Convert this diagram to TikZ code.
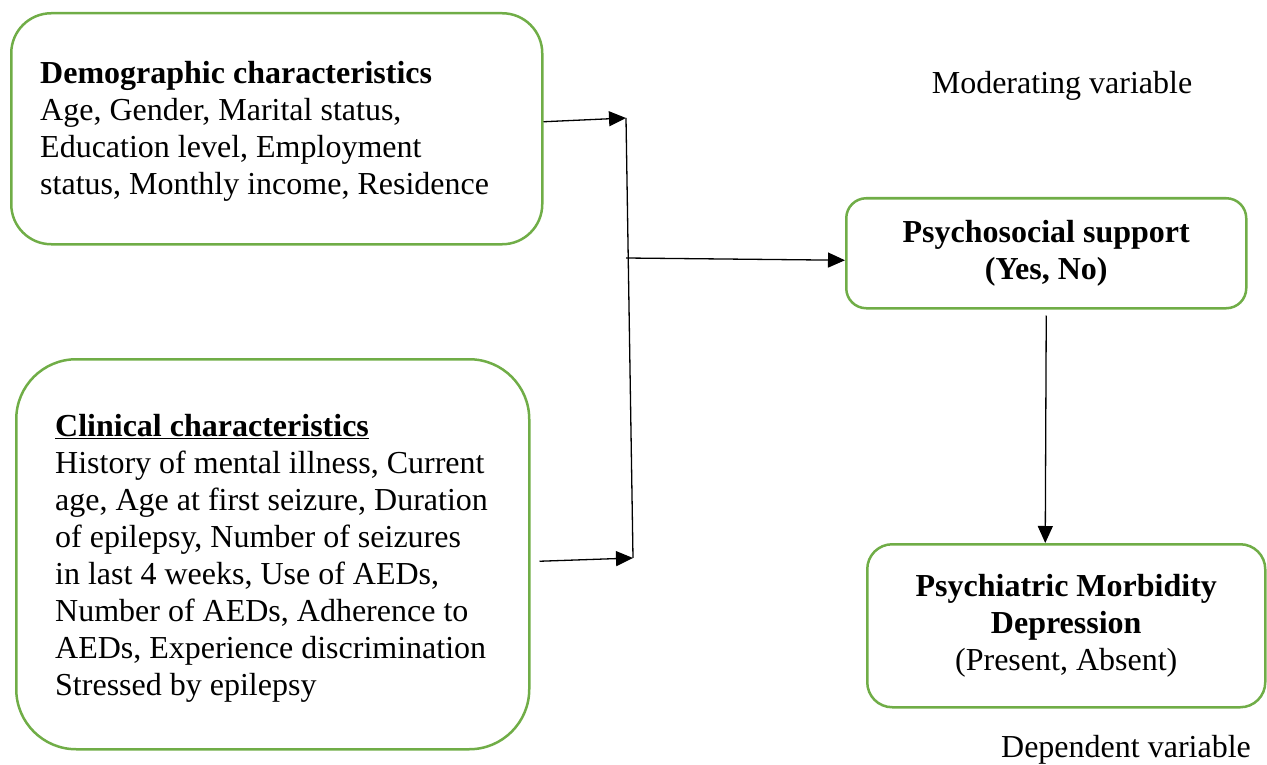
\documentclass[tikz,border=0pt]{standalone}
\usepackage{fontspec}
\setmainfont{Liberation Serif}
\usetikzlibrary{arrows.meta}
\definecolor{boxgreen}{RGB}{112,173,71}

\begin{document}
\begin{tikzpicture}[x=1pt, y=-1pt,
	box/.style={draw=boxgreen, line width=2.5pt, inner sep=0pt},
	txt/.style={inner sep=0pt, align=left, font=\fontsize{32}{37}\selectfont},
	arr/.style={line width=1.3pt, -{Triangle[length=17pt,width=15pt]}}]
			\useasboundingbox (0,0) rectangle (1267,765);

			\node[box, rounded corners=40pt, minimum width=531pt, minimum height=231pt, anchor=north west] (demo) at (10,12) {};
			\node[txt, anchor=west] (demotxt) at ([xshift=30pt,yshift=-3pt]demo.west) {\textbf{Demographic characteristics}\\Age, Gender, Marital status,\\Education level, Employment\\status, Monthly income, Residence};

			\node[box, rounded corners=60pt, minimum width=513pt, minimum height=390pt, anchor=north west] (clin) at (15,358) {};
			\node[txt, anchor=west] (clintxt) at ([xshift=40pt,yshift=-4pt]clin.west) {\textbf{\underline{Clinical characteristics}}\\History of mental illness, Current\\age, Age at first seizure, Duration\\of epilepsy, Number of seizures\\in last 4 weeks, Use of AEDs,\\Number of AEDs, Adherence to\\AEDs, Experience discrimination\\Stressed by epilepsy};

			\node[box, txt, align=center, rounded corners=20pt, minimum width=400pt, minimum height=110pt, anchor=north west] (psy) at (845,197) {\textbf{Psychosocial support}\\\textbf{(Yes, No)}};

			\node[box, txt, align=center, rounded corners=25pt, minimum width=398pt, minimum height=163pt, anchor=north west] (morb) at (866,543) {\textbf{Psychiatric Morbidity}\\\textbf{Depression}\\(Present, Absent)};

			\node[txt] (modlbl) at (1062,86) {Moderating variable};
			\node[txt] (deplbl) at (1126,750) {Dependent variable};

			\coordinate (jtop) at (626,118);
			\coordinate (jmid) at (626,258);
			\coordinate (jbot) at (633,558);

			\draw[line width=1.3pt] (jtop)--(jbot);
			\draw[arr] ([yshift=7pt]demo.east)--(jtop);
			\draw[arr] ([xshift=9pt,yshift=-7pt]clin.east)--(jbot);
			\draw[arr] (jmid)--([yshift=-7pt]psy.west);
			\draw[arr] ([yshift=-6pt]psy.south)--([xshift=-21pt]morb.north);
		\end{tikzpicture}
\end{document}
